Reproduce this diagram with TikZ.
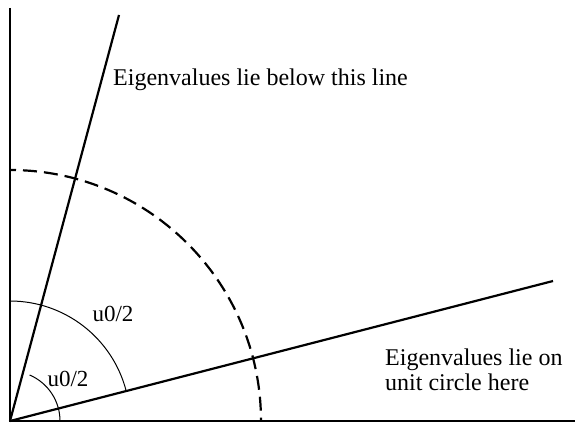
\documentclass[tikz,border=0pt]{standalone}
\usepackage{fontspec}
\setmainfont{Liberation Serif}
\usetikzlibrary{calc}
\begin{document}
\begin{tikzpicture}[x=1pt, y=1pt]
\useasboundingbox (0, 0) rectangle (575, 424);
\coordinate (O) at (10, 3);
\coordinate (ytop) at (10, 416);
\coordinate (xend) at (575, 3);
\coordinate (steep) at (119, 409);
\coordinate (flat) at (553, 143);
\draw [line width=2.2pt] (ytop) -- (O) -- (xend);
\draw [line width=2.2pt] (O) -- (steep);
\draw [line width=2.2pt] (O) -- (flat);
\draw [line width=2.2pt, dash pattern=on 14pt off 7pt, dash phase=8pt] (10, 254) arc (90:0:251);
\draw [line width=1pt] (10, 123) arc (90:14.5:120);
\draw [line width=1pt] ($(O)+(67:50)$) arc (67:0:50);
\node (bigl) at (113, 110) {\fontsize{23}{27}\selectfont u0/2};
\node (smalll) at (68, 45) {\fontsize{23}{27}\selectfont u0/2};
\node (below) [anchor=base west, inner sep=0pt] at (113, 338) {\fontsize{24}{28}\selectfont Eigenvalues lie below this line};
\node (circle) [anchor=base west, inner sep=0pt, align=left, font=\fontsize{24}{25}\selectfont] at (385, 34) {Eigenvalues lie on\\unit circle here};
\end{tikzpicture}
\end{document}
